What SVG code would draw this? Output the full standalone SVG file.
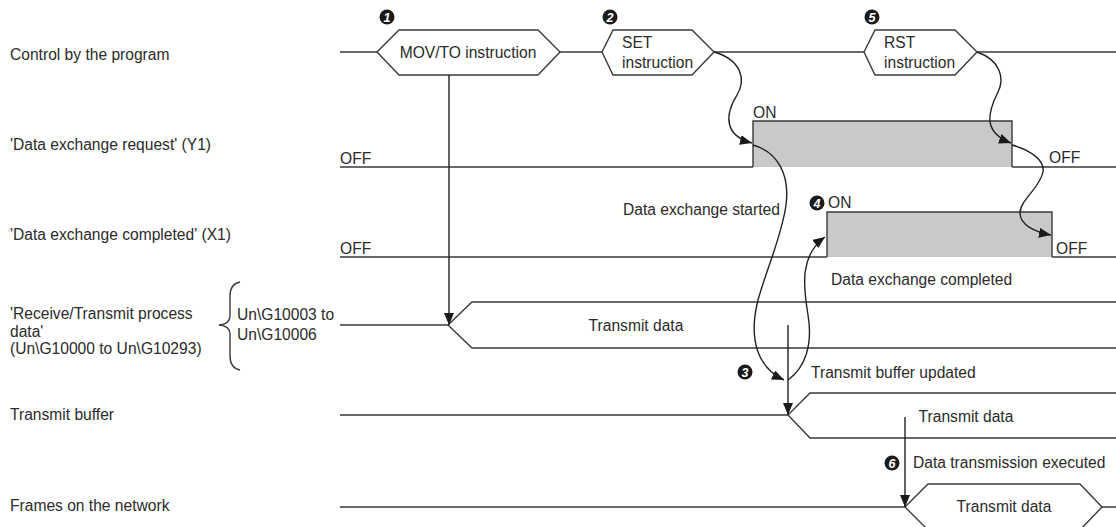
<svg xmlns="http://www.w3.org/2000/svg" width="1116" height="527" viewBox="0 0 1116 527">
<defs>
<style>
.t{font-family:"Liberation Sans",Arial,sans-serif;font-size:15.6px;fill:#2b2b2b}
.ln{fill:none;stroke:#3a3a3a;stroke-width:1.4}
.cv{fill:none;stroke:#222;stroke-width:1.4}
.sig{fill:#c8c9cb;stroke:#3a3a3a;stroke-width:1.4}
.hx{fill:#fff;stroke:#3a3a3a;stroke-width:1.4}
.nb circle{fill:#1a1a1a}
.nb text{font-family:"Liberation Sans",Arial,sans-serif;font-size:12.5px;font-weight:bold;font-style:italic;fill:#fff;text-anchor:middle}
</style>
<marker id="ah" viewBox="0 0 12 10" refX="12" refY="5" markerWidth="12" markerHeight="10" markerUnits="userSpaceOnUse" orient="auto">
<path d="M0,0 L12,5 L0,10 Z" fill="#1a1a1a"/>
</marker>
</defs>
<rect width="1116" height="527" fill="#fff"/>

<g id="labels">
<text class="t" x="10" y="60">Control by the program</text>
<text class="t" x="10" y="150">'Data exchange request' (Y1)</text>
<text class="t" x="10" y="240">'Data exchange completed' (X1)</text>
<text class="t" x="10" y="319">'Receive/Transmit process</text>
<text class="t" x="10" y="337">data'</text>
<text class="t" x="10" y="354">(Un\G10000 to Un\G10293)</text>
<text class="t" x="10" y="420">Transmit buffer</text>
<text class="t" x="10" y="511">Frames on the network</text>
</g>

<g id="program">
<path class="ln" d="M340,52 H377 M560,52 H602 M714,52 H864 M977,52 H1116"/>
<g id="mov">
<path class="hx" d="M377,52 L399,30 H538 L560,52 L538,75 H399 Z"/>
<text class="t" x="468" y="58" text-anchor="middle">MOV/TO instruction</text>
</g>
<g id="set">
<path class="hx" d="M602,52 L613,30 H692 L714,52 L692,75 H613 Z"/>
<text class="t" x="622" y="48">SET</text>
<text class="t" x="622" y="68">instruction</text>
</g>
<g id="rst">
<path class="hx" d="M864,52 L875,30 H955 L977,52 L955,75 H875 Z"/>
<text class="t" x="884" y="48">RST</text>
<text class="t" x="884" y="68">instruction</text>
</g>
</g>

<g id="y1">
<path class="sig" d="M753,167 V121 H1012 V167"/>
<path class="ln" d="M340,167 H753 M1012,167 H1116"/>
<text class="t" x="753" y="118">ON</text>
<text class="t" x="340" y="164">OFF</text>
<text class="t" x="1049" y="163">OFF</text>
</g>

<g id="x1">
<path class="sig" d="M827,257 V212 H1052 V257"/>
<path class="ln" d="M340,257 H827 M1052,257 H1116"/>
<text class="t" x="828" y="208">ON</text>
<text class="t" x="340" y="254">OFF</text>
<text class="t" x="1056" y="254">OFF</text>
</g>

<g id="rtdata">
<path class="ln" d="M340,325 H448"/>
<path class="hx" d="M1116,302 H472 L448,325 L472,348 H1116"/>
<text class="t" x="636" y="331" text-anchor="middle">Transmit data</text>
<path class="ln" d="M240,282 Q230,284 230,296 V316 Q230,324 219,325 Q230,326 230,334 V356 Q230,368 240,370"/>
<text class="t" x="237" y="320">Un\G10003 to</text>
<text class="t" x="237" y="340">Un\G10006</text>
</g>

<g id="buffer">
<path class="ln" d="M340,415 H788"/>
<path class="hx" d="M1116,393 H810 L788,415 L810,438 H1116"/>
<text class="t" x="966" y="422" text-anchor="middle">Transmit data</text>
</g>

<g id="network">
<path class="ln" d="M340,507 H905 M1102,507 H1116"/>
<path class="hx" d="M905,507 L928,484 H1080 L1102,507 L1080,530 H928 Z"/>
<text class="t" x="1004" y="512" text-anchor="middle">Transmit data</text>
</g>

<g id="connectors">
<path class="cv" d="M449,75 V325" marker-end="url(#ah)"/>
<path class="cv" d="M788,325 V415" marker-end="url(#ah)"/>
<path class="cv" d="M905,417 V507" marker-end="url(#ah)"/>
<path class="cv" d="M714,52 C742,60 746,80 737,95 C724,116 725,136 752,143" marker-end="url(#ah)"/>
<path class="cv" d="M753,145 C778,152 790,175 786,205 C782,235 768,265 758,300 C748,340 758,368 784,380" marker-end="url(#ah)"/>
<path class="cv" d="M788,380 C805,368 813,345 808,315 C803,285 800,255 825,237" marker-end="url(#ah)"/>
<path class="cv" d="M977,52 C1000,60 1005,78 998,92 C988,112 982,132 1011,143" marker-end="url(#ah)"/>
<path class="cv" d="M1012,145 C1030,150 1045,160 1043,172 C1040,188 1020,200 1020,213 C1020,225 1035,232 1051,235" marker-end="url(#ah)"/>
</g>

<g id="annotations">
<text class="t" x="623" y="215">Data exchange started</text>
<text class="t" x="831" y="285">Data exchange completed</text>
<text class="t" x="811" y="378">Transmit buffer updated</text>
<text class="t" x="913" y="468">Data transmission executed</text>
</g>

<g id="numbers" class="nb">
<g><circle cx="387" cy="17" r="7.5"/><text x="387" y="21.5">1</text></g>
<g><circle cx="610" cy="17" r="7.5"/><text x="610" y="21.5">2</text></g>
<g><circle cx="745" cy="372" r="7.5"/><text x="745" y="376.5">3</text></g>
<g><circle cx="817" cy="203" r="7.5"/><text x="817" y="207.5">4</text></g>
<g><circle cx="872" cy="17" r="7.5"/><text x="872" y="21.5">5</text></g>
<g><circle cx="892" cy="463" r="7.5"/><text x="892" y="467.5">6</text></g>
</g>
</svg>
